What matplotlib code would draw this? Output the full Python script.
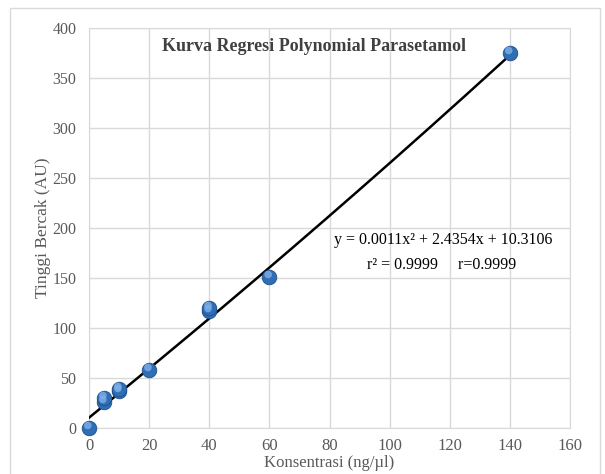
import matplotlib
matplotlib.use("Agg")
import matplotlib.pyplot as plt
import numpy as np
from matplotlib.patches import Rectangle

# Calibration data: concentration vs. spot height
konsentrasi = [0, 5, 5, 10, 10, 20, 40, 40, 60, 140]
tinggi = [0, 26, 30, 37, 39, 58, 117, 120, 151, 375]

# Polynomial regression coefficients (a x^2 + b x + c)
coef = [0.0011, 2.4354, 10.3106]
x_ticks = [0, 20, 40, 60, 80, 100, 120, 140, 160]
y_ticks = [0, 50, 100, 150, 200, 250, 300, 350, 400]

plt.rcParams["font.family"] = ["Liberation Serif", "DejaVu Serif"]

fig = plt.figure(figsize=(6.05, 4.74), dpi=100)
ax = fig.add_axes([89 / 605, 1 - 428 / 474, (570 - 89) / 605, (428 - 28) / 474])

# chart frame
fig.patches.append(Rectangle((10 / 605, -0.01), 590 / 605, 1 - 8 / 474 + 0.01,
                             transform=fig.transFigure, fill=False,
                             edgecolor="#d9d9d9", linewidth=1.0))

ax.set_xlim(0, 160)
ax.set_ylim(0, 400)
ax.set_xticks(x_ticks)
ax.set_yticks(y_ticks)
ax.grid(True, color="#d9d9d9", linewidth=1.0)
ax.set_axisbelow(True)
for s in ax.spines.values():
    s.set_color("#d9d9d9")
ax.tick_params(axis="x", length=0, labelsize=12, colors="#595959", pad=7)
ax.tick_params(axis="y", length=0, labelsize=11.5, colors="#595959", pad=9)

# trendline
xf = np.linspace(0, 140, 200)
yf = np.polyval(coef, xf)
ax.plot(xf, yf, color="black", linewidth=1.8, zorder=3)

# data points with a shaded look
ax.scatter(konsentrasi, tinggi, s=110, color="#2f6db5", edgecolors="#1f4e8a",
           linewidths=0.6, zorder=4, clip_on=False)
ax.scatter(np.array(konsentrasi) - 0.4, np.array(tinggi) + 2.5, s=30,
           color="#7fb0e8", edgecolors="none", alpha=0.8, zorder=5, clip_on=False)

ax.text(0.467, 0.975, "Kurva Regresi Polynomial Parasetamol", transform=ax.transAxes,
        ha="center", va="top", fontsize=13, fontweight="bold", color="#404040")

ax.text(81.5, 188, "y = 0.0011x² + 2.4354x + 10.3106", fontsize=11.5, color="black",
        ha="left", va="center")
ax.text(92.5, 163, "r² = 0.9999     r=0.9999", fontsize=11.5, color="black",
        ha="left", va="center")

ax.set_xlabel("Konsentrasi (ng/µl)", fontsize=12, color="#595959", labelpad=1)
ax.set_ylabel("Tinggi Bercak (AU)", fontsize=12.5, color="#595959", labelpad=1)

fig.savefig("out.png", dpi=100)
